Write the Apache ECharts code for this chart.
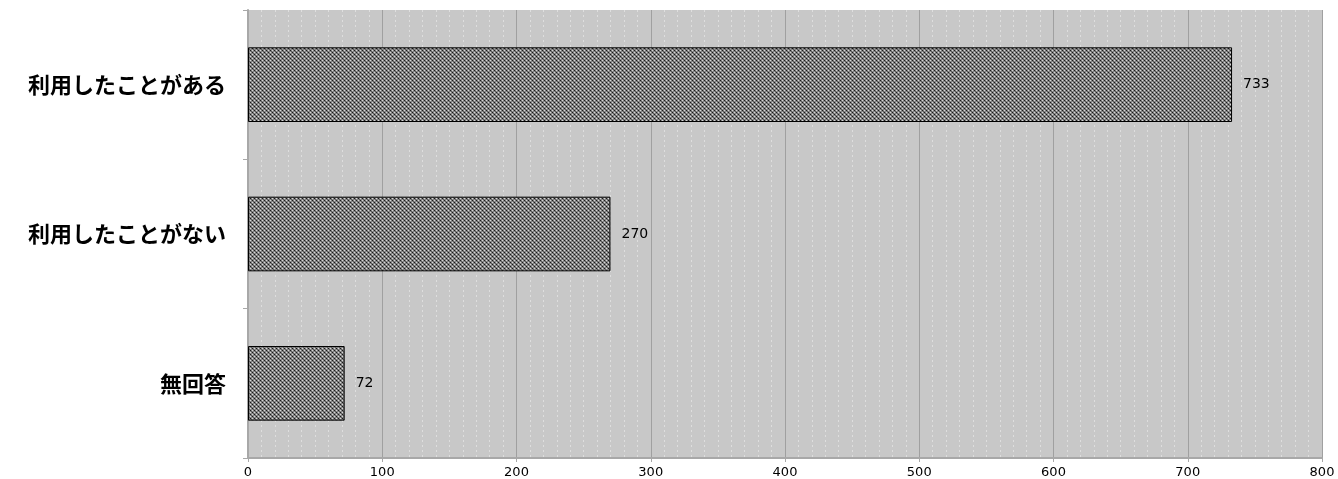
<!DOCTYPE html>
<html><head><meta charset="utf-8">
<script src="https://cdn.jsdelivr.net/npm/echarts@6/dist/echarts.min.js"></script>
<style>html,body{margin:0;padding:0;background:#fff}#c{width:1338px;height:479px}</style>
</head><body><div id="c"></div>
<script>
const categories = ['利用したことがある', '利用したことがない', '無回答'];
const values = [733, 270, 72];
const xTicks = [0, 100, 200, 300, 400, 500, 600, 700, 800];

function makePattern() {
  const c = document.createElement('canvas');
  c.width = 4; c.height = 4;
  const g = c.getContext('2d');
  g.fillStyle = '#858585'; g.fillRect(0, 0, 4, 4);
  g.fillStyle = '#1a1a1a';
  g.fillRect(0, 0, 1, 1); g.fillRect(2, 2, 1, 1);
  g.fillStyle = '#d8d8d8';
  g.fillRect(2, 0, 1, 1); g.fillRect(0, 2, 1, 1);
  g.fillStyle = '#5a5a5a';
  g.fillRect(1, 1, 1, 1); g.fillRect(3, 3, 1, 1);
  return c;
}

const chart = echarts.init(document.getElementById('c'), null, {renderer: 'canvas'});
chart.setOption({
  animation: false,
  grid: {left: 248, right: 16, top: 10, bottom: 21, show: true, backgroundColor: '#c8c8c8', borderWidth: 0},
  xAxis: {
    type: 'value', min: xTicks[0], max: xTicks[xTicks.length - 1], interval: 100,
    axisLine: {show: true, lineStyle: {color: '#a8a8a8', width: 2}},
    axisTick: {show: true, length: 4, lineStyle: {color: '#a8a8a8'}},
    axisLabel: {color: '#000', fontFamily: 'DejaVu Sans', fontSize: 13, margin: 8},
    splitLine: {show: true, lineStyle: {color: '#a0a0a0', width: 1}},
    minorTick: {show: false, splitNumber: 10},
    minorSplitLine: {show: true, lineStyle: {color: '#dedede', width: 1, type: [2, 3]}}
  },
  yAxis: {
    type: 'category', data: categories, inverse: true,
    axisLine: {show: true, lineStyle: {color: '#a8a8a8', width: 2}},
    axisTick: {show: true, length: 5, lineStyle: {color: '#a8a8a8'}},
    axisLabel: {color: '#000', fontFamily: 'Noto Sans CJK JP', fontSize: 22, fontWeight: 'bold', margin: 22}
  },
  series: [{
    type: 'bar', data: values, barWidth: '50%',
    itemStyle: {color: {image: makePattern(), repeat: 'repeat'}, borderColor: '#000', borderWidth: 1},
    label: {show: true, position: 'right', distance: 11, color: '#000', fontFamily: 'DejaVu Sans', fontSize: 14}
  }]
});
</script></body></html>
